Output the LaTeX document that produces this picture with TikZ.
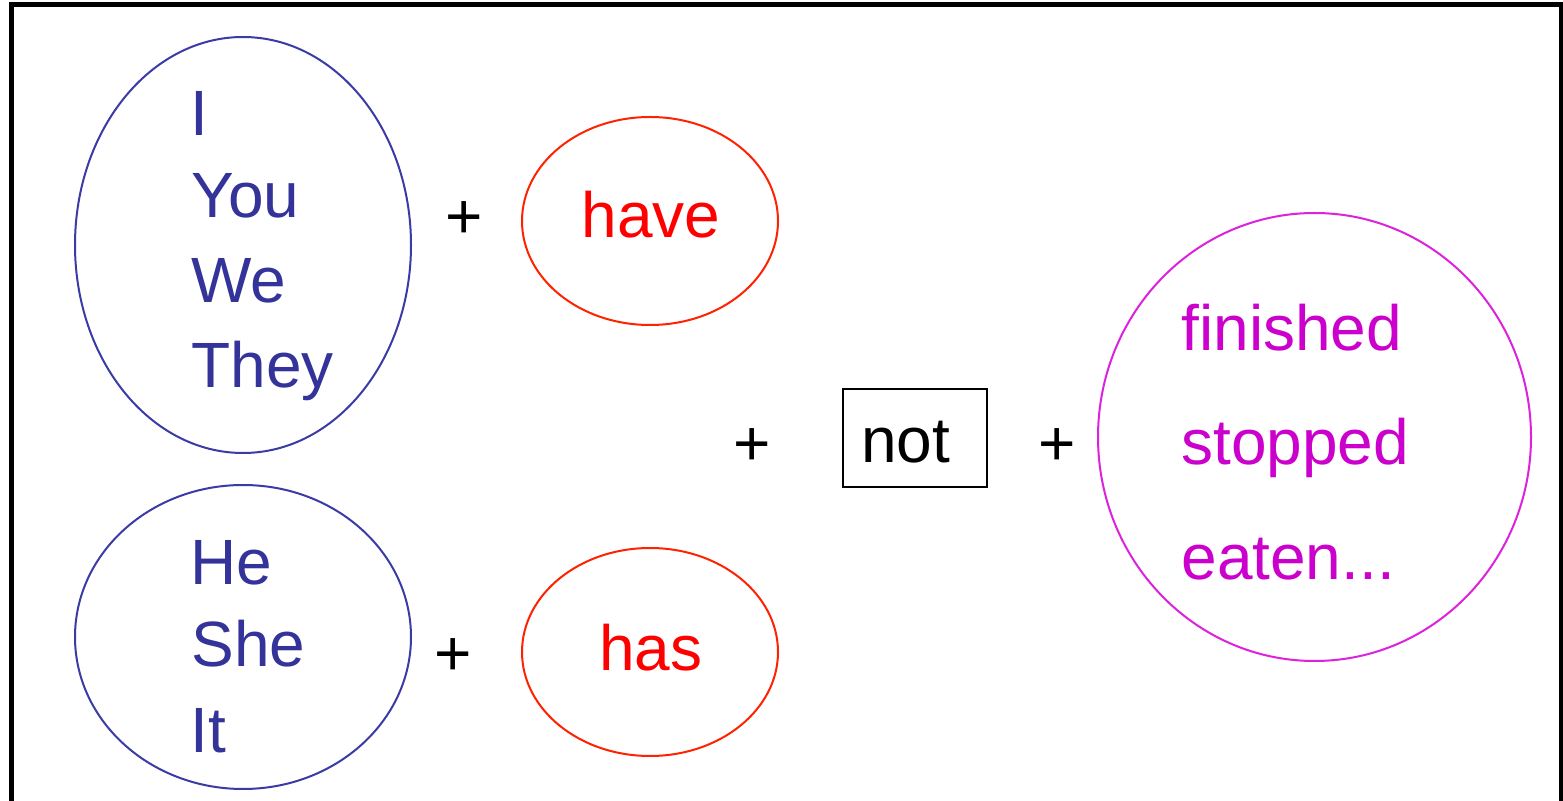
\documentclass[tikz,border=0pt]{standalone}
\usepackage{fontspec}
\setmainfont{Liberation Sans}
\usetikzlibrary{shapes.geometric}
\definecolor{pblue}{HTML}{333399}
\definecolor{pblueline}{HTML}{3B3BA6}
\definecolor{pred}{HTML}{FF0000}
\definecolor{predline}{HTML}{FF2200}
\definecolor{pmag}{HTML}{CC00CC}
\definecolor{pmagline}{HTML}{DD22DD}
\tikzset{
  big/.style={font=\fontsize{32}{38}\selectfont, inner sep=0pt},
  oval/.style={ellipse, draw, line width=1pt, inner sep=0pt},
  subj/.style={big, text=pblue, anchor=base west},
  verb/.style={big, text=pred, anchor=base},
  part/.style={big, text=pmag, anchor=base west},
  plus/.style={big, text=black, anchor=base},
}
\begin{document}
\begin{tikzpicture}[x=0.5pt, y=-0.5pt]
\useasboundingbox (0,0) rectangle (1563,801);
\fill[white] (0,0) rectangle (1563,801);
\draw[line width=2.5pt] (11.5,850) -- (11.5,5) -- (1561.5,5) -- (1561.5,850);
% ovals
\node[oval, draw=pblueline, minimum width=168pt, minimum height=208pt] (e1) at (243,245) {};
\node[oval, draw=pblueline, minimum width=168pt, minimum height=152pt] (e2) at (243,637) {};
\node[oval, draw=predline, minimum width=128pt, minimum height=104pt] (h1) at (650,221) {};
\node[oval, draw=predline, minimum width=128pt, minimum height=104pt] (h2) at (650,652) {};
\node[oval, draw=pmagline, minimum width=216.5pt, minimum height=224pt] (c) at (1314.5,437) {};
\node[draw, line width=1pt, minimum width=72pt, minimum height=49pt, inner sep=0pt] (nb) at (915,438) {};
% subjects
\node[subj] (tI) at (190,136) {I};
\node[subj] (tYou) at (191,218) {You};
\node[subj] (tWe) at (191,303) {We};
\node[subj] (tThey) at (191,388) {They};
\node[subj] (tHe) at (190,584) {He};
\node[subj] (tShe) at (191,666) {She};
\node[subj] (tIt) at (190,752) {It};
% verbs
\node[verb] (thave) at (651,238) {have};
\node[verb] (thas) at (651,670) {has};
% not
\node[big, anchor=base west] (tnot) at (861,463) {not};
% participles
\node[part] (tfin) at (1181,351) {finished};
\node[part] (tstop) at (1181,465) {stopped};
\node[part] (teat) at (1181,580) {eaten...};
% plus signs
\node[plus] (p1) at (464,239) {+};
\node[plus] (p2) at (453,675) {+};
\node[plus] (p3) at (752,466) {+};
\node[plus] (p4) at (1057,466) {+};
\end{tikzpicture}
\end{document}
